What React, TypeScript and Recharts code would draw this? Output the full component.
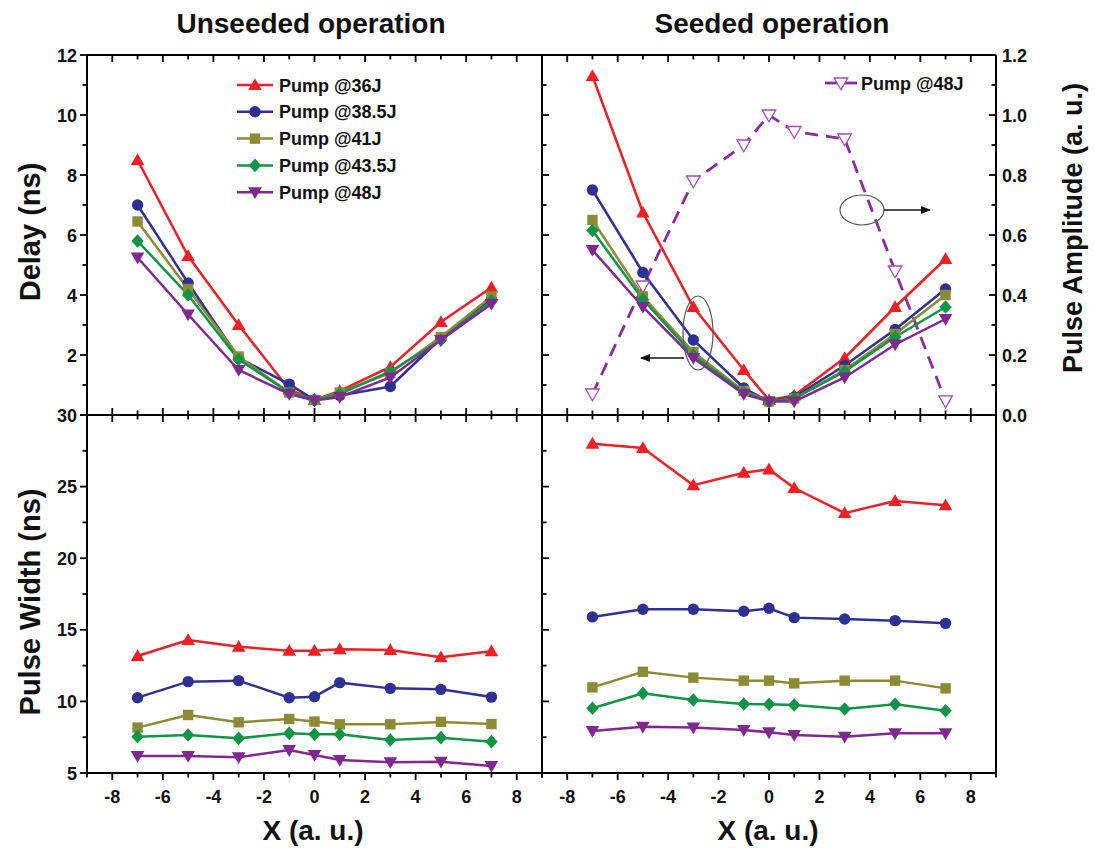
import React from "react";
import { LineChart, Line, XAxis, YAxis } from "recharts";

// x positions (a. u.)
const xs = [-7, -5, -3, -1, 0, 1, 3, 5, 7];
const pumps = ["Pump @36J", "Pump @38.5J", "Pump @41J", "Pump @43.5J", "Pump @48J"];

// delay (ns), unseeded
const delayU36 = [8.5, 5.3, 3.0, 0.85, 0.5, 0.8, 1.6, 3.1, 4.25];
const delayU385 = [7.0, 4.4, 1.9, 1.03, 0.5, 0.65, 0.95, 2.55, 3.85];
const delayU41 = [6.45, 4.2, 1.95, 0.75, 0.5, 0.75, 1.4, 2.6, 3.95];
const delayU435 = [5.8, 4.0, 1.85, 0.75, 0.5, 0.7, 1.45, 2.5, 3.8];
const delayU48 = [5.25, 3.35, 1.5, 0.7, 0.48, 0.6, 1.25, 2.5, 3.7];

// delay (ns), seeded
const delayS36 = [11.3, 6.75, 3.6, 1.5, 0.5, 0.65, 1.9, 3.6, 5.2];
const delayS385 = [7.5, 4.75, 2.5, 0.9, 0.45, 0.6, 1.65, 2.85, 4.2];
const delayS41 = [6.5, 3.95, 2.1, 0.8, 0.45, 0.55, 1.5, 2.7, 4.0];
const delayS435 = [6.15, 3.85, 2.0, 0.75, 0.45, 0.55, 1.45, 2.6, 3.6];
const delayS48 = [5.5, 3.6, 1.9, 0.7, 0.45, 0.45, 1.25, 2.35, 3.2];

// pulse amplitude (a. u.), seeded @48J
const ampS48 = [0.07, 0.43, 0.78, 0.9, 1.0, 0.945, 0.92, 0.48, 0.047];

// pulse width (ns), unseeded
const widthU36 = [13.17, 14.29, 13.82, 13.54, 13.54, 13.64, 13.59, 13.08, 13.5];
const widthU385 = [10.26, 11.38, 11.45, 10.26, 10.33, 11.31, 10.91, 10.84, 10.3];
const widthU41 = [8.17, 9.05, 8.54, 8.77, 8.59, 8.4, 8.4, 8.57, 8.42];
const widthU435 = [7.54, 7.65, 7.42, 7.77, 7.7, 7.7, 7.3, 7.47, 7.19];
const widthU48 = [6.19, 6.19, 6.1, 6.6, 6.26, 5.91, 5.75, 5.79, 5.49];

// pulse width (ns), seeded
const widthS36 = [28.0, 27.7, 25.1, 25.97, 26.2, 24.9, 23.15, 24.0, 23.7];
const widthS385 = [15.9, 16.43, 16.43, 16.3, 16.5, 15.85, 15.75, 15.64, 15.45];
const widthS41 = [10.98, 12.07, 11.66, 11.45, 11.45, 11.26, 11.45, 11.45, 10.91];
const widthS435 = [9.52, 10.56, 10.1, 9.82, 9.8, 9.75, 9.47, 9.8, 9.35];
const widthS48 = [7.93, 8.23, 8.17, 8.0, 7.84, 7.65, 7.54, 7.77, 7.77];

// axis ticks
const xTicks = [-9, -8, -7, -6, -5, -4, -3, -2, -1, 0, 1, 2, 3, 4, 5, 6, 7, 8, 9];
const delayTicks = [0, 1, 2, 3, 4, 5, 6, 7, 8, 9, 10, 11, 12];
const widthTicks = [5, 7.5, 10, 12.5, 15, 17.5, 20, 22.5, 25, 27.5, 30];
const ampTicks = [0, 0.1, 0.2, 0.3, 0.4, 0.5, 0.6, 0.7, 0.8, 0.9, 1.0, 1.1, 1.2];

const W = 1095, H = 848;
const PL = 87, PM = 542, PR = 996, PT = 55, PY = 415, PB = 773;
const FONT = "'Liberation Sans', Arial, sans-serif";

const colors = ["#ee1f25", "#2e3192", "#8c8a34", "#119447", "#80288f"];
const shapes = ["up", "circle", "square", "diamond", "down"];

const rows = (series: number[][]) =>
  xs.map((x, i) => {
    const r: any = { x };
    series.forEach((s, k) => (r["s" + k] = s[i]));
    return r;
  });

const tlData = rows([delayU36, delayU385, delayU41, delayU435, delayU48]);
const trData = rows([delayS36, delayS385, delayS41, delayS435, delayS48, ampS48]);
const blData = rows([widthU36, widthU385, widthU41, widthU435, widthU48]);
const brData = rows([widthS36, widthS385, widthS41, widthS435, widthS48]);

function marker(shape: string, cx: number, cy: number, color: string, key?: any, hollow = false) {
  const fill = hollow ? "#fff" : color;
  const sw = hollow ? 1.3 : 0;
  const p = { key, fill, stroke: color, strokeWidth: sw };
  if (shape === "circle") return <circle {...p} cx={cx} cy={cy} r={5.7} />;
  if (shape === "square") return <rect {...p} x={cx - 5.2} y={cy - 5.2} width={10.4} height={10.4} />;
  if (shape === "diamond")
    return <path {...p} d={`M${cx},${cy - 6.8}L${cx + 6.2},${cy}L${cx},${cy + 6.8}L${cx - 6.2},${cy}Z`} />;
  if (shape === "down")
    return <path {...p} d={`M${cx - 6.8},${cy - 5}L${cx + 6.8},${cy - 5}L${cx},${cy + 6.8}Z`} />;
  return <path {...p} d={`M${cx - 6.8},${cy + 5}L${cx + 6.8},${cy + 5}L${cx},${cy - 6.8}Z`} />;
}

const dotFor = (shape: string, color: string, hollow = false) => (p: any) =>
  p.cx == null ? <g key={p.index} /> : marker(shape, p.cx, p.cy, color, p.index, hollow);

type TickCfg = {
  side: "left" | "right" | "top" | "bottom";
  inward: boolean;
  major: (v: number) => boolean;
  label?: (v: number) => string;
};

const makeTick = (cfg: TickCfg) => (p: any) => {
  const { x, y, payload } = p;
  const v = payload.value;
  const big = cfg.major(v);
  const len = big ? 7 : 4.5;
  const o = cfg.inward ? -1 : 1;
  let x2 = x, y2 = y;
  if (cfg.side === "bottom") y2 = y + o * len;
  if (cfg.side === "top") y2 = y - o * len;
  if (cfg.side === "left") x2 = x - o * len;
  if (cfg.side === "right") x2 = x + o * len;
  let txt = null;
  const s = cfg.label && big ? cfg.label(v) : "";
  if (s) {
    const tp: any = { fontFamily: FONT, fontWeight: 700, fontSize: 18, fill: "#111" };
    if (cfg.side === "bottom") txt = <text {...tp} x={x} y={y + 30} textAnchor="middle">{s}</text>;
    if (cfg.side === "left") txt = <text {...tp} x={x - 10} y={y + 6.5} textAnchor="end">{s}</text>;
    if (cfg.side === "right") txt = <text {...tp} x={x + 6} y={y + 6.5} textAnchor="start">{s}</text>;
  }
  return (
    <g>
      <line x1={x} y1={y} x2={x2} y2={y2} stroke="#000" strokeWidth={1.8} />
      {txt}
    </g>
  );
};

const isEven = (v: number) => Math.abs(v) % 2 === 0;
const isFive = (v: number) => v % 5 === 0;
const isAmpMajor = (v: number) => Math.round(v * 10) % 2 === 0;
const axisLine = { stroke: "#000", strokeWidth: 2 };
const fmtAmp = (v: number) => v.toFixed(1);
// the delay "0" shares its spot with the pulse-width "30" label below it
const fmtDelay = (v: number) => (v === 0 ? "" : String(v));

function panelAxes(opts: {
  yTicks: number[];
  yDomain: [number, number];
  yMajor: (v: number) => boolean;
  yLabel?: (v: number) => string;
  xLabels: boolean;
}) {
  return [
    <XAxis
      key="xb"
      xAxisId="b"
      type="number"
      dataKey="x"
      domain={[-9, 9]}
      ticks={xTicks}
      interval={0}
      height={1}
      tickSize={0}
      tickMargin={0}
      axisLine={axisLine}
      tickLine={false}
      tick={makeTick({ side: "bottom", inward: !opts.xLabels, major: isEven, label: opts.xLabels ? String : undefined })}
    />,
    <XAxis
      key="xt"
      xAxisId="t"
      orientation="top"
      type="number"
      dataKey="x"
      domain={[-9, 9]}
      ticks={xTicks}
      interval={0}
      height={1}
      tickSize={0}
      tickMargin={0}
      axisLine={axisLine}
      tickLine={false}
      tick={makeTick({ side: "top", inward: true, major: isEven })}
    />,
    <YAxis
      key="yl"
      yAxisId="l"
      type="number"
      domain={opts.yDomain}
      ticks={opts.yTicks}
      interval={0}
      width={1}
      tickSize={0}
      tickMargin={0}
      axisLine={axisLine}
      tickLine={false}
      tick={makeTick({ side: "left", inward: !opts.yLabel, major: opts.yMajor, label: opts.yLabel })}
    />,
  ];
}

function seriesLines(n: number) {
  return Array.from({ length: n }, (_, k) => (
    <Line
      key={"s" + k}
      xAxisId="b"
      yAxisId="l"
      dataKey={"s" + k}
      stroke={colors[k]}
      strokeWidth={2.5}
      dot={dotFor(shapes[k], colors[k])}
      activeDot={false}
      isAnimationActive={false}
    />
  ));
}

// margins account for the 1px axis boxes on every side
const box = (l: number, t: number, r: number, b: number) => ({ left: l - 1, top: t - 1, right: W - r - 1, bottom: H - b - 1 });

const full: React.CSSProperties = { position: "absolute", left: 0, top: 0 };

export default function App() {
  return (
    <div style={{ position: "absolute", left: 0, top: 0, width: W, height: H, background: "#fff", overflow: "hidden" }}>
      {/* top-left: delay, unseeded */}
      <div style={full}>
        <LineChart width={W} height={H} data={tlData} margin={box(PL, PT, PM, PY)}>
          {panelAxes({ yTicks: delayTicks, yDomain: [0, 12], yMajor: isEven, yLabel: fmtDelay, xLabels: false })}
          <YAxis yAxisId="r" orientation="right" type="number" domain={[0, 12]} ticks={delayTicks} interval={0} width={1} tickSize={0} tickMargin={0} axisLine={axisLine} tickLine={false} tick={makeTick({ side: "right", inward: true, major: isEven })} />
          {seriesLines(5)}
        </LineChart>
      </div>
      {/* top-right: delay + amplitude, seeded */}
      <div style={full}>
        <LineChart width={W} height={H} data={trData} margin={box(PM, PT, PR, PY)}>
          {panelAxes({ yTicks: delayTicks, yDomain: [0, 12], yMajor: isEven, xLabels: false })}
          <YAxis yAxisId="r" orientation="right" type="number" domain={[0, 1.2]} ticks={ampTicks} interval={0} width={1} tickSize={0} tickMargin={0} axisLine={axisLine} tickLine={false} tick={makeTick({ side: "right", inward: true, major: isAmpMajor, label: fmtAmp })} />
          <Line
            xAxisId="b"
            yAxisId="r"
            dataKey="s5"
            stroke="#8a2d98"
            strokeWidth={2.8}
            strokeDasharray="13 8"
            dot={dotFor("down", "#a24bb0", true)}
            activeDot={false}
            isAnimationActive={false}
          />
          {seriesLines(5)}
        </LineChart>
      </div>
      {/* bottom-left: pulse width, unseeded */}
      <div style={full}>
        <LineChart width={W} height={H} data={blData} margin={box(PL, PY, PM, PB)}>
          {panelAxes({ yTicks: widthTicks, yDomain: [5, 30], yMajor: isFive, yLabel: String, xLabels: true })}
          <YAxis yAxisId="r" orientation="right" type="number" domain={[5, 30]} ticks={widthTicks} interval={0} width={1} tickSize={0} tickMargin={0} axisLine={axisLine} tickLine={false} tick={makeTick({ side: "right", inward: true, major: isFive })} />
          {seriesLines(5)}
        </LineChart>
      </div>
      {/* bottom-right: pulse width, seeded */}
      <div style={full}>
        <LineChart width={W} height={H} data={brData} margin={box(PM, PY, PR, PB)}>
          {panelAxes({ yTicks: widthTicks, yDomain: [5, 30], yMajor: isFive, xLabels: true })}
          <YAxis yAxisId="r" orientation="right" type="number" domain={[5, 30]} ticks={widthTicks} interval={0} width={1} tickSize={0} tickMargin={0} axisLine={axisLine} tickLine={false} tick={makeTick({ side: "right", inward: true, major: isFive })} />
          {seriesLines(5)}
        </LineChart>
      </div>

      {/* titles, axis titles, legends, annotations */}
      <svg width={W} height={H} style={{ ...full, pointerEvents: "none" }}>
        <g fontFamily={FONT} fontWeight={700} fill="#111">
          <text x={311} y={33} fontSize={28} textAnchor="middle">Unseeded operation</text>
          <text x={772} y={33} fontSize={28} textAnchor="middle">Seeded operation</text>
          <text x={313} y={840} fontSize={28} textAnchor="middle">X (a. u.)</text>
          <text x={768} y={840} fontSize={28} textAnchor="middle">X (a. u.)</text>
          <text transform="translate(40,232) rotate(-90)" fontSize={29} textAnchor="middle">Delay (ns)</text>
          <text transform="translate(40,602) rotate(-90)" fontSize={29} textAnchor="middle">Pulse Width (ns)</text>
          <text transform="translate(1082,228) rotate(-90)" fontSize={27} textAnchor="middle">Pulse Amplitude (a. u.)</text>
        </g>
        {pumps.map((name, k) => {
          const y = 85 + k * 26.8;
          return (
            <g key={name}>
              <line x1={237} y1={y} x2={273} y2={y} stroke={colors[k]} strokeWidth={2.5} />
              {marker(shapes[k], 255, y, colors[k])}
              <text x={279} y={y + 6.5} fontFamily={FONT} fontWeight={700} fontSize={18} fill="#111">{name}</text>
            </g>
          );
        })}
        <g>
          <line x1={825} y1={83} x2={857} y2={83} stroke="#8a2d98" strokeWidth={2.8} />
          {marker("down", 841, 83, "#a24bb0", undefined, true)}
          <text x={861} y={89.5} fontFamily={FONT} fontWeight={700} fontSize={18} fill="#111">Pump @48J</text>
        </g>
        <defs>
          <marker id="arr" markerWidth="10" markerHeight="8" refX="9" refY="4" orient="auto" markerUnits="userSpaceOnUse">
            <path d="M0,0L10,4L0,8Z" fill="#111" />
          </marker>
        </defs>
        <ellipse cx={698} cy={333} rx={15} ry={37} fill="none" stroke="#555" strokeWidth={1.2} />
        <line x1={684} y1={358} x2={641} y2={358} stroke="#111" strokeWidth={1.3} markerEnd="url(#arr)" />
        <ellipse cx={862} cy={210} rx={22} ry={15} fill="none" stroke="#555" strokeWidth={1.2} />
        <line x1={884} y1={210} x2={930} y2={210} stroke="#111" strokeWidth={1.3} markerEnd="url(#arr)" />
      </svg>
    </div>
  );
}
